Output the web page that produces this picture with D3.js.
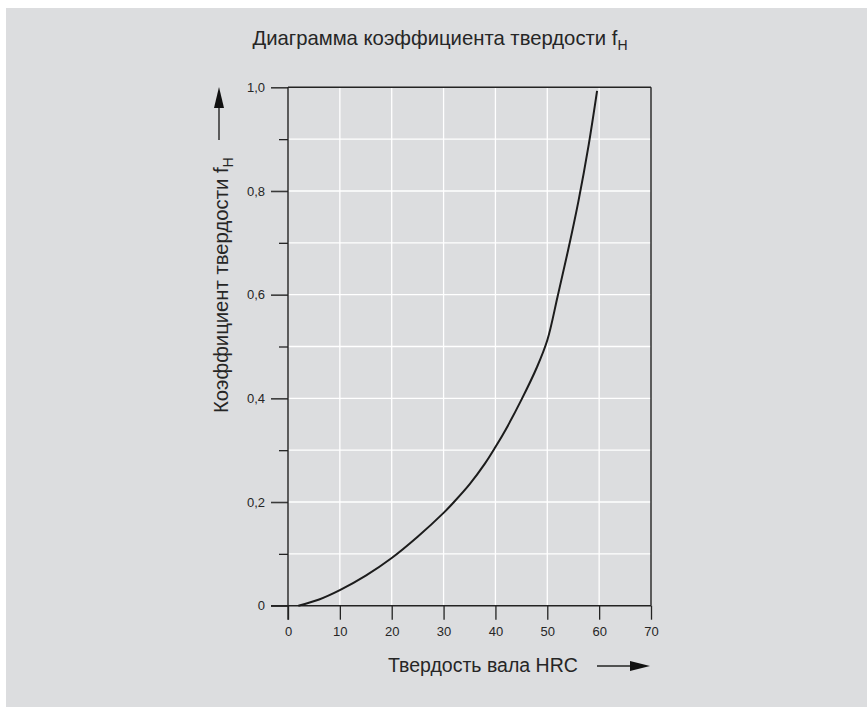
<!DOCTYPE html>
<html>
<head>
<meta charset="utf-8">
<script src="https://cdn.jsdelivr.net/npm/d3@7"></script>
<style>
  html, body { margin: 0; padding: 0; background: #ffffff; }
  svg { display: block; font-family: "Liberation Sans", Arial, Helvetica, sans-serif; }
</style>
</head>
<body>
<svg id="chart" width="867" height="707"></svg>
<script>
// ---- data ----
const hardnessHRC = [2, 6, 10, 15, 20, 25, 30, 32, 35, 38, 40, 42, 45, 48, 50, 52, 54, 56, 58, 59.6];
const factorFH    = [0, 0.012, 0.03, 0.058, 0.092, 0.133, 0.179, 0.2, 0.234, 0.2745, 0.306, 0.34, 0.397, 0.46, 0.512, 0.597, 0.685, 0.78, 0.89, 0.993];
const xTicks = [0, 10, 20, 30, 40, 50, 60, 70];
const yMajorTicks = [0, 0.2, 0.4, 0.6, 0.8, 1.0];
const yMinorTicks = [0.1, 0.3, 0.5, 0.7, 0.9];
const yTickLabels = ["0", "0,2", "0,4", "0,6", "0,8", "1,0"];
const titleText = "Диаграмма коэффициента твердости f";
const subscriptText = "H";
const xLabelText = "Твердость вала HRC";
const yLabelText = "Коэффициент твердости f";

const svg = d3.select("#chart");
const textColor = "#262626";
const axisColor = "#232323";

svg.append("rect").attr("x", 6).attr("y", 8).attr("width", 861).attr("height", 699).attr("fill", "#dcdddf");

const x = d3.scaleLinear().domain([0, 70]).range([288, 651]);
const y = d3.scaleLinear().domain([0, 1]).range([605.7, 87.3]);

// grid
const grid = svg.append("g").attr("stroke", "#ffffff").attr("stroke-width", 1.3);
grid.selectAll("line.v").data(xTicks.filter(d => d > 0 && d < 70)).join("line")
  .attr("x1", d => x(d)).attr("x2", d => x(d)).attr("y1", y(0)).attr("y2", y(1));
grid.selectAll("line.h").data(yMinorTicks.concat(yMajorTicks.filter(d => d > 0 && d < 1))).join("line")
  .attr("x1", x(0)).attr("x2", x(70)).attr("y1", d => y(d)).attr("y2", d => y(d));

// axes
const xAxis = d3.axisBottom(x).tickValues(xTicks).tickSize(14).tickPadding(7).tickFormat(d3.format("d"));
const gx = svg.append("g").attr("transform", `translate(0,${y(0)})`).call(xAxis);
gx.select(".domain").remove();
gx.selectAll(".tick line").attr("stroke", axisColor).attr("stroke-width", 1.3);
gx.selectAll(".tick text").attr("fill", textColor).attr("font-size", 13).attr("font-family", "Liberation Sans, Arial, sans-serif");

const yAxis = d3.axisLeft(y).tickValues(yMajorTicks).tickSize(17).tickPadding(6).tickFormat((d, i) => yTickLabels[i]);
const gy = svg.append("g").attr("transform", `translate(${x(0)},0)`).call(yAxis);
gy.select(".domain").remove();
gy.selectAll(".tick line").attr("stroke", "#3a3a3a").attr("stroke-width", 1.6);
gy.selectAll(".tick text").attr("fill", textColor).attr("font-size", 13).attr("font-family", "Liberation Sans, Arial, sans-serif");

const yMinor = d3.axisLeft(y).tickValues(yMinorTicks).tickSize(9).tickFormat("");
const gym = svg.append("g").attr("transform", `translate(${x(0)},0)`).call(yMinor);
gym.select(".domain").remove();
gym.selectAll(".tick line").attr("stroke", axisColor).attr("stroke-width", 1.3);

// frame
const frame = svg.append("g").attr("stroke", axisColor).attr("stroke-width", 1.4).attr("fill", "none");
frame.append("line").attr("x1", x(0)).attr("x2", x(0)).attr("y1", y(1)).attr("y2", y(0) + 14);
frame.append("line").attr("x1", x(0) - 17).attr("x2", x(70)).attr("y1", y(0)).attr("y2", y(0));
frame.append("line").attr("x1", x(0)).attr("x2", x(70)).attr("y1", y(1)).attr("y2", y(1));
frame.append("line").attr("x1", x(70)).attr("x2", x(70)).attr("y1", y(1)).attr("y2", y(0));

// curve
const pts = hardnessHRC.map((h, i) => [h, factorFH[i]]);
svg.append("path").datum(pts)
  .attr("fill", "none").attr("stroke", "#1c1c1c").attr("stroke-width", 2)
  .attr("d", d3.line().x(d => x(d[0])).y(d => y(d[1])).curve(d3.curveCatmullRom.alpha(0.5)));

// title
const title = svg.append("text").attr("x", 440).attr("y", 45).attr("text-anchor", "middle")
  .attr("fill", textColor).attr("font-size", 20.3);
title.append("tspan").text(titleText);
title.append("tspan").attr("font-size", 14).attr("dy", 5).text(subscriptText);

// x label
svg.append("text").attr("x", 388).attr("y", 672).attr("fill", textColor).attr("font-size", 19.5).text(xLabelText);
// x arrow
svg.append("line").attr("x1", 597).attr("x2", 632).attr("y1", 666).attr("y2", 666).attr("stroke", axisColor).attr("stroke-width", 1.4);
svg.append("path").attr("d", "M650,666 L630,661 L630,671 Z").attr("fill", "#111");

// y label
const yl = svg.append("text").attr("transform", "translate(228,413) rotate(-90)")
  .attr("fill", textColor).attr("font-size", 20.3).attr("text-anchor", "start");
yl.append("tspan").text(yLabelText);
yl.append("tspan").attr("font-size", 14).attr("dy", 5).text(subscriptText);
// y arrow
svg.append("line").attr("x1", 219).attr("x2", 219).attr("y1", 140).attr("y2", 105).attr("stroke", axisColor).attr("stroke-width", 1.4);
svg.append("path").attr("d", "M219,87 L214,108 L224,108 Z").attr("fill", "#111");
</script>
</body>
</html>
